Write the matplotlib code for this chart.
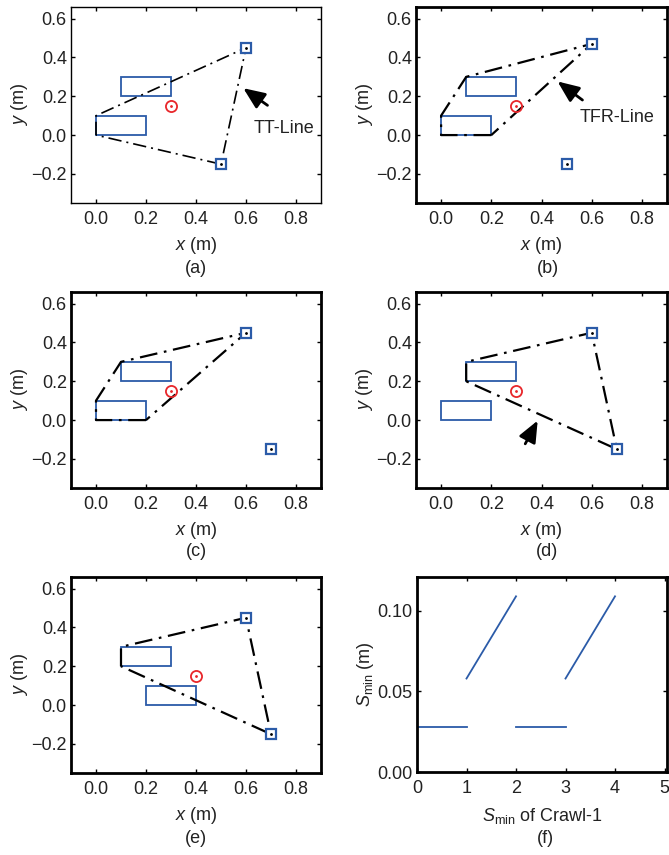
import numpy as np
import matplotlib
matplotlib.use("Agg")
import matplotlib.pyplot as plt
from matplotlib.patches import Rectangle

plt.rcParams['font.family'] = ['Liberation Sans', 'DejaVu Sans']
plt.rcParams['mathtext.fontset'] = 'custom'
plt.rcParams['mathtext.rm'] = 'Liberation Sans'
plt.rcParams['mathtext.it'] = 'Liberation Sans:italic'

#%% DATA
# rectangles (x0, y0, width, height) for each layout panel
rectsA = [(0.0, 0.0, 0.2, 0.1), (0.1, 0.2, 0.2, 0.1)]
rectsB = [(0.0, 0.0, 0.2, 0.1), (0.1, 0.2, 0.2, 0.1)]
rectsC = [(0.0, 0.0, 0.2, 0.1), (0.1, 0.2, 0.2, 0.1)]
rectsD = [(0.0, 0.0, 0.2, 0.1), (0.1, 0.2, 0.2, 0.1)]
rectsE = [(0.1, 0.2, 0.2, 0.1), (0.2, 0.0, 0.2, 0.1)]
# red circle (centre of mass)
comA = (0.3, 0.15)
comB = (0.3, 0.15)
comC = (0.3, 0.15)
comD = (0.3, 0.15)
comE = (0.4, 0.15)
# blue squares (feet)
feetA = [(0.6, 0.45), (0.5, -0.15)]
feetB = [(0.6, 0.47), (0.5, -0.15)]
feetC = [(0.6, 0.45), (0.7, -0.15)]
feetD = [(0.6, 0.45), (0.7, -0.15)]
feetE = [(0.6, 0.45), (0.7, -0.15)]
# dash-dot support polygons
polyA = [(0.0, 0.0), (0.0, 0.1), (0.6, 0.45), (0.5, -0.15), (0.0, 0.0)]
polyB = [(0.2, 0.0), (0.0, 0.0), (0.0, 0.1), (0.1, 0.3), (0.6, 0.47), (0.2, 0.0)]
polyC = [(0.2, 0.0), (0.0, 0.0), (0.0, 0.1), (0.1, 0.3), (0.6, 0.45), (0.2, 0.0)]
polyD = [(0.1, 0.2), (0.1, 0.3), (0.6, 0.45), (0.7, -0.15), (0.1, 0.2)]
polyE = [(0.1, 0.2), (0.1, 0.3), (0.6, 0.45), (0.7, -0.15), (0.1, 0.2)]

# panel (f): S_min vs S_min of Crawl-1
segX = [[0, 1], [1, 2], [2, 3], [3, 4]]
segY = [[0.028, 0.028], [0.058, 0.109], [0.028, 0.028], [0.058, 0.109]]

xticksLayout = [0.0, 0.2, 0.4, 0.6, 0.8]
yticksLayout = [-0.2, 0.0, 0.2, 0.4, 0.6]

blue = '#2b5ba8'
red = '#e8262a'
txt = '#222222'

W, H = 669, 855
fig = plt.figure(figsize=(W / 100, H / 100), dpi=100)

def makeAx(l, r, t, b, lw):
    ax = fig.add_axes([l / W, (H - b) / H, (r - l) / W, (b - t) / H])
    for s in ax.spines.values():
        s.set_linewidth(lw)
        s.set_color('black')
    ax.tick_params(direction='in', length=3, width=1, top=True, right=True,
                   labelsize=13, labelcolor=txt)
    ax.tick_params(axis='x', pad=6)
    ax.tick_params(axis='y', pad=3)
    return ax

def layoutPanel(ax, rects, com, feet, poly, lineW):
    for (x0, y0, w, h) in rects:
        ax.add_patch(Rectangle((x0, y0), w, h, fill=False, edgecolor=blue, lw=1.3, zorder=2))
    px = [p[0] for p in poly]
    py = [p[1] for p in poly]
    ax.plot(px, py, color='black', lw=lineW, linestyle=(0, (8, 3, 1.2, 3)), zorder=3)
    for (fx, fy) in feet:
        ax.plot(fx, fy, marker='s', ms=7, mfc='white', mec=blue, mew=1.6, zorder=4)
        ax.plot(fx, fy, marker='.', ms=2, color='black', zorder=5)
    ax.plot(com[0], com[1], marker='o', ms=8, mfc='none', mec=red, mew=1.3, zorder=4)
    ax.plot(com[0], com[1], marker='.', ms=2, color=red, zorder=5)
    ax.set_xlim(-0.1, 0.9)
    ax.set_ylim(-0.35, 0.66)
    ax.set_xticks(xticksLayout)
    ax.set_yticks(yticksLayout)
    ax.set_xticklabels(['%.1f' % v for v in xticksLayout])
    ax.set_yticklabels(['%.1f' % v if v >= 0 else '\u2212%.1f' % abs(v) for v in yticksLayout])
    ax.set_xlabel(r'$x$ (m)', fontsize=13, color=txt, labelpad=5)
    ax.set_ylabel(r'$y$ (m)', fontsize=13, color=txt, labelpad=1)

arrowStyle = dict(arrowstyle='-|>,head_length=1.3,head_width=0.55', color='black', lw=2.0)

axA = makeAx(71, 321, 7, 203, 1.0)
layoutPanel(axA, rectsA, comA, feetA, polyA, 1.2)
axA.annotate('', xy=(0.58, 0.25), xytext=(0.695, 0.145), arrowprops=arrowStyle)
axA.text(0.75, 0.035, 'TT-Line', fontsize=13, color=txt, ha='center', va='center')

axB = makeAx(416, 667, 7, 203, 2.0)
layoutPanel(axB, rectsB, comB, feetB, polyB, 1.6)
axB.annotate('', xy=(0.455, 0.285), xytext=(0.572, 0.172), arrowprops=arrowStyle)
axB.text(0.7, 0.093, 'TFR-Line', fontsize=13, color=txt, ha='center', va='center')

axC = makeAx(71, 321, 292, 488, 2.0)
layoutPanel(axC, rectsC, comC, feetC, polyC, 1.6)

axD = makeAx(416, 667, 292, 488, 2.0)
layoutPanel(axD, rectsD, comD, feetD, polyD, 1.6)
axD.annotate('', xy=(0.39, 0.01), xytext=(0.33, -0.135), arrowprops=arrowStyle)

axE = makeAx(71, 321, 577, 773, 2.0)
layoutPanel(axE, rectsE, comE, feetE, polyE, 1.6)

axF = makeAx(417, 667, 577, 772, 2.0)
for sx, sy in zip(segX, segY):
    axF.plot(sx, sy, color=blue, lw=1.3)
axF.set_xlim(0, 5.05)
axF.set_ylim(0, 0.121)
axF.set_xticks([0, 1, 2, 3, 4, 5])
axF.set_yticks([0.0, 0.05, 0.10])
axF.set_yticklabels(['0.00', '0.05', '0.10'])
axF.set_xlabel(r'$S_{\rm min}$ of Crawl-1', fontsize=13, color=txt, labelpad=6)
axF.set_ylabel(r'$S_{\rm min}$ (m)', fontsize=13, color=txt, labelpad=1)

# panel letters
letters = [('(a)', 196, 268), ('(b)', 548, 268), ('(c)', 196, 552),
           ('(d)', 547, 552), ('(e)', 196, 838), ('(f)', 545, 838)]
for lab, x, y in letters:
    fig.text(x / W, (H - y) / H, lab, fontsize=13, color=txt, ha='center', va='center')

fig.savefig('out.png', dpi=100)
